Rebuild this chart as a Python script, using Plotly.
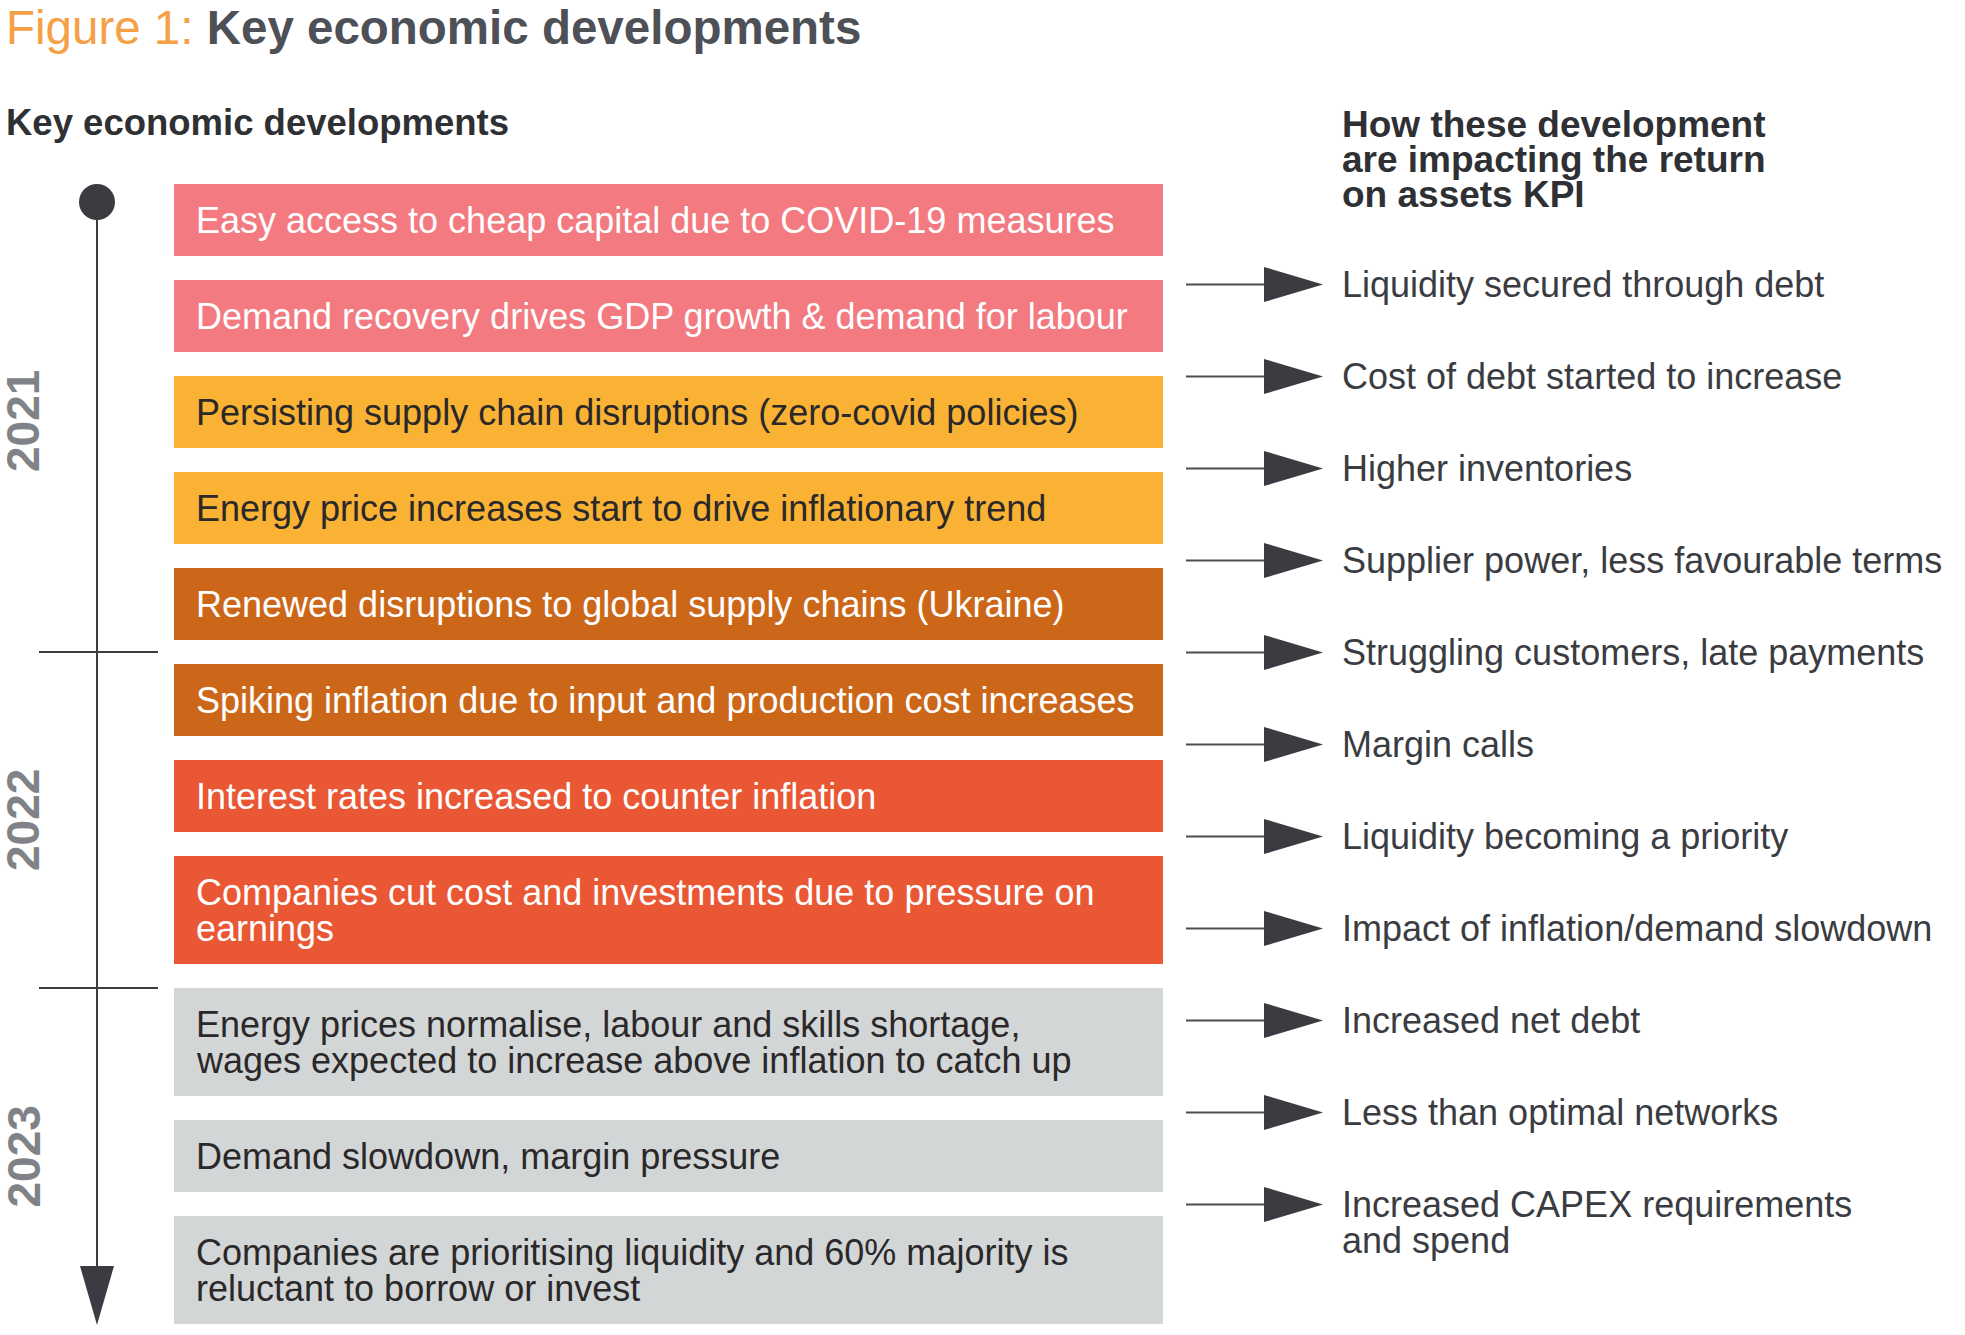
import plotly.graph_objects as go

# ---------------- data ----------------
title_prefix = "Figure 1:"
title_main = "Key economic developments"
left_header = "Key economic developments"
right_header = ["How these development", "are impacting the return", "on assets KPI"]

developments = [
    "Easy access to cheap capital due to COVID-19 measures",
    "Demand recovery drives GDP growth & demand for labour",
    "Persisting supply chain disruptions (zero-covid policies)",
    "Energy price increases start to drive inflationary trend",
    "Renewed disruptions to global supply chains (Ukraine)",
    "Spiking inflation due to input and production cost increases",
    "Interest rates increased to counter inflation",
    "Companies cut cost and investments due to pressure on\nearnings",
    "Energy prices normalise, labour and skills shortage,\nwages expected to increase above inflation to catch up",
    "Demand slowdown, margin pressure",
    "Companies are prioritising liquidity and 60% majority is\nreluctant to borrow or invest",
]
dev_groups = ["pink", "pink", "yellow", "yellow", "brown", "brown",
              "red", "red", "grey", "grey", "grey"]

impacts = [
    "Liquidity secured through debt",
    "Cost of debt started to increase",
    "Higher inventories",
    "Supplier power, less favourable terms",
    "Struggling customers, late payments",
    "Margin calls",
    "Liquidity becoming a priority",
    "Impact of inflation/demand slowdown",
    "Increased net debt",
    "Less than optimal networks",
    "Increased CAPEX requirements\nand spend",
]

years = ["2021", "2022", "2023"]
year_last_index = [4, 7, 10]   # last development belonging to each year

# ---------------- styles ----------------
W, H = 1965, 1335
FONT = "Liberation Sans, Arial, Helvetica, sans-serif"
DARK = "#3A3C41"
fill = {"pink": "#F27A80", "yellow": "#F9B233", "brown": "#CC6719",
        "red": "#EA5734", "grey": "#D3D6D7"}
txtcol = {"pink": "#FFFFFF", "yellow": "#2B2829", "brown": "#FFFFFF",
          "red": "#FFFFFF", "grey": "#2B2829"}

BOX_X0, BOX_X1 = 174, 1163
BOX_TOP0 = 184
ONE_H, LINE_H, GAP = 72, 36, 24
TXT_X = 194
FS = 36

ARR_Y0, ARR_PITCH = 284.5, 92
AR_L0, AR_L1, AR_TIP, AR_HALF = 1186, 1264, 1323, 17.5
IMP_X = 1340

TL_X, TL_TOP, TL_TIP = 97, 202, 1325

shapes = []
ann = []

def text(x, y, s, size, color, bold=False, anchor="left", angle=0):
    ann.append(dict(x=x, y=y, xref="x", yref="y", text=(f"<b>{s}</b>" if bold else s),
                    showarrow=False, xanchor=anchor, yanchor="middle", textangle=angle,
                    font=dict(family=FONT, size=size, color=color)))

# title
ann.append(dict(x=4, y=27, xref="x", yref="y", showarrow=False, xanchor="left", yanchor="middle",
                text=f"<span style='color:#F6A046'>{title_prefix} </span><b>{title_main}</b>",
                font=dict(family=FONT, size=47.5, color="#4D5056")))
# headers
text(4, 122, left_header, 36.5, "#2E3034", bold=True)
for i, line in enumerate(right_header):
    text(IMP_X, 124 + 35 * i, line, 37, "#2E3034", bold=True)

# development boxes
top = BOX_TOP0
box_bounds = []
for s, g in zip(developments, dev_groups):
    lines = s.split("\n")
    h = ONE_H + LINE_H * (len(lines) - 1)
    shapes.append(dict(type="rect", xref="x", yref="y", x0=BOX_X0, x1=BOX_X1, y0=top, y1=top + h,
                       fillcolor=fill[g], line=dict(width=0), layer="below"))
    c = top + h / 2
    n = len(lines)
    for j, ln in enumerate(lines):
        text(TXT_X, c + (j - (n - 1) / 2) * 36, ln, FS, txtcol[g])
    box_bounds.append((top, top + h))
    top += h + GAP

# impact arrows and texts
for i, s in enumerate(impacts):
    y = ARR_Y0 + ARR_PITCH * i
    shapes.append(dict(type="line", xref="x", yref="y", x0=AR_L0, x1=AR_L1 + 5, y0=y, y1=y,
                       line=dict(color="#4A4C51", width=2)))
    shapes.append(dict(type="path", xref="x", yref="y",
                       path=f"M{AR_L1},{y - AR_HALF} L{AR_TIP},{y} L{AR_L1},{y + AR_HALF} Z",
                       fillcolor=DARK, line=dict(width=0)))
    for j, ln in enumerate(s.split("\n")):
        text(IMP_X, y + 36 * j, ln, FS, DARK)

# timeline
shapes.append(dict(type="line", xref="x", yref="y", x0=TL_X, x1=TL_X, y0=TL_TOP, y1=TL_TIP - 40,
                   line=dict(color=DARK, width=2)))
shapes.append(dict(type="circle", xref="x", yref="y", x0=TL_X - 18, x1=TL_X + 18,
                   y0=TL_TOP - 18, y1=TL_TOP + 18, fillcolor=DARK, line=dict(width=0)))
shapes.append(dict(type="path", xref="x", yref="y",
                   path=f"M{TL_X - 17},{TL_TIP - 59} L{TL_X + 17},{TL_TIP - 59} L{TL_X},{TL_TIP} Z",
                   fillcolor=DARK, line=dict(width=0)))

seg_start = 190
for k, (yr, last) in enumerate(zip(years, year_last_index)):
    if k < len(years) - 1:
        nxt_top = box_bounds[last + 1][0]
        yb = nxt_top - 12 if k == 0 else nxt_top
        shapes.append(dict(type="line", xref="x", yref="y", x0=39, x1=158, y0=yb, y1=yb,
                           line=dict(color=DARK, width=2)))
    else:
        yb = TL_TIP
    text(23, (seg_start + yb) / 2, yr, 46, "#7F8387", bold=True,
         anchor="center", angle=-90)
    seg_start = yb

fig = go.Figure()
fig.update_layout(
    width=W, height=H, margin=dict(l=0, r=0, t=0, b=0),
    paper_bgcolor="white", plot_bgcolor="white",
    xaxis=dict(range=[0, W], visible=False, fixedrange=True),
    yaxis=dict(range=[H, 0], visible=False, fixedrange=True),
    shapes=shapes, annotations=ann, showlegend=False,
)
fig.write_html("out.html", config={"displayModeBar": False},
               post_script="document.body.style.margin='0';document.body.style.overflow='hidden';")
